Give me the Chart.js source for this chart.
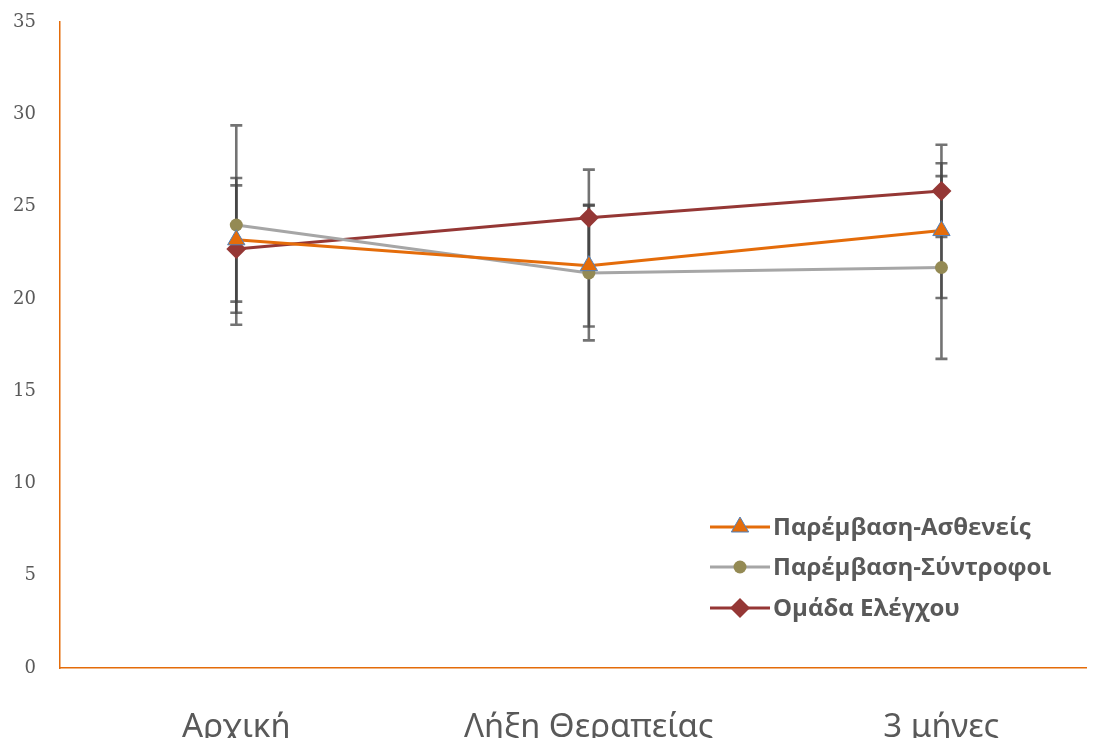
<!DOCTYPE html>
<html lang="el">
<head>
<meta charset="utf-8">
<title>Παρέμβαση – μετρήσεις</title>
<script src="https://cdn.jsdelivr.net/npm/chart.js@4/dist/chart.umd.min.js"></script>
<style>
  html, body { margin: 0; padding: 0; background: #ffffff; overflow: hidden; }
  #wrap { width: 1101px; height: 738px; overflow: hidden; }
  canvas { display: block; }
</style>
</head>
<body>
<div id="wrap"><canvas id="chart" width="1101" height="780"></canvas></div>
<script>
// Measurement time points
const categories = ['Αρχική', 'Λήξη Θεραπείας', '3 μήνες'];

// Mean scores per group
const patients = [23.2, 21.8, 23.7];
const partners = [24.0, 21.4, 21.7];
const control  = [22.7, 24.4, 25.85];

// Error (± half range) per group
const patientsErr = [3.35, 3.3, 3.65];
const partnersErr = [5.4, 3.65, 4.95];
const controlErr  = [3.45, 2.6, 2.5];

const seriesNames = ['Παρέμβαση-Ασθενείς', 'Παρέμβαση-Σύντροφοι', 'Ομάδα Ελέγχου'];

// Y axis tick values
const yTicks = [0, 5, 10, 15, 20, 25, 30, 35];

const TEXT = '#595959';
const AXIS = '#E46C0A';

const toPoints = arr => arr.map((v, i) => ({ x: i, y: v }));

// Vertical error bars with caps, drawn underneath the lines and markers
const errorBars = {
  id: 'errorBars',
  beforeDatasetsDraw(chart) {
    const { ctx, scales: { x, y } } = chart;
    ctx.save();
    ctx.strokeStyle = 'rgba(68,68,68,0.75)';
    ctx.lineWidth = 2.6;
    chart.data.datasets.forEach(ds => {
      ds.data.forEach((p, i) => {
        const e = ds.errors[i];
        const px = x.getPixelForValue(p.x);
        const top = y.getPixelForValue(p.y + e);
        const bot = y.getPixelForValue(p.y - e);
        ctx.beginPath();
        ctx.moveTo(px, top); ctx.lineTo(px, bot);
        ctx.moveTo(px - 6, top); ctx.lineTo(px + 6, top);
        ctx.moveTo(px - 6, bot); ctx.lineTo(px + 6, bot);
        ctx.stroke();
      });
    });
    ctx.restore();
  }
};

// Legend inside the plot area: line sample with marker, then the label
const insideLegend = {
  id: 'insideLegend',
  afterDraw(chart) {
    const { ctx, chartArea } = chart;
    const x0 = chartArea.right - 376;
    const rows = [527, 567, 608];
    ctx.save();
    chart.data.datasets.forEach((ds, i) => {
      const yy = rows[i];
      ctx.strokeStyle = ds.borderColor;
      ctx.lineWidth = 3;
      ctx.beginPath();
      ctx.moveTo(x0, yy); ctx.lineTo(x0 + 60, yy);
      ctx.stroke();
      const opts = {
        pointStyle: ds.pointStyle,
        radius: ds.pointRadius,
        rotation: 0,
        borderWidth: ds.pointBorderWidth
      };
      ctx.fillStyle = ds.pointBackgroundColor;
      ctx.strokeStyle = ds.pointBorderColor;
      ctx.lineWidth = ds.pointBorderWidth;
      Chart.helpers.drawPoint(ctx, opts, x0 + 30, yy);
      ctx.fillStyle = TEXT;
      ctx.font = 'bold 24px "Open Sans", "Noto Sans", sans-serif';
      ctx.textBaseline = 'middle';
      ctx.textAlign = 'left';
      ctx.fillText(ds.label, x0 + 63, yy + 1);
    });
    ctx.restore();
  }
};

new Chart(document.getElementById('chart'), {
  type: 'line',
  data: {
    datasets: [
      {
        label: seriesNames[0],
        data: toPoints(patients),
        errors: patientsErr,
        borderColor: '#E46C0A',
        borderWidth: 3,
        pointStyle: 'triangle',
        pointRadius: 10,
        pointBackgroundColor: '#E46C0A',
        pointBorderColor: '#4F81BD',
        pointBorderWidth: 1,
        tension: 0
      },
      {
        label: seriesNames[1],
        data: toPoints(partners),
        errors: partnersErr,
        borderColor: '#A6A6A6',
        borderWidth: 3,
        pointStyle: 'circle',
        pointRadius: 6.5,
        pointBackgroundColor: '#948A54',
        pointBorderColor: '#948A54',
        pointBorderWidth: 0,
        tension: 0
      },
      {
        label: seriesNames[2],
        data: toPoints(control),
        errors: controlErr,
        borderColor: '#953735',
        borderWidth: 3,
        pointStyle: 'rectRot',
        pointRadius: 10,
        pointBackgroundColor: '#953735',
        pointBorderColor: '#953735',
        pointBorderWidth: 0,
        tension: 0
      }
    ]
  },
  options: {
    responsive: false,
    animation: false,
    events: [],
    layout: { padding: { top: 22, right: 15, left: 0, bottom: 0 } },
    plugins: {
      legend: { display: false },
      tooltip: { enabled: false },
      title: { display: false }
    },
    scales: {
      x: {
        type: 'linear',
        min: -0.5,
        max: 2.41,
        afterBuildTicks(scale) { scale.ticks = categories.map((c, i) => ({ value: i })); },
        afterFit(scale) { scale.height = 112; },
        grid: { display: false, drawTicks: false },
        border: { display: true, color: AXIS, width: 1.5 },
        ticks: {
          autoSkip: false,
          maxRotation: 0,
          padding: 40,
          color: TEXT,
          font: { family: '"Noto Sans", sans-serif', size: 33 },
          callback: v => categories[v] ?? ''
        }
      },
      y: {
        min: 0,
        max: 35,
        afterBuildTicks(scale) { scale.ticks = yTicks.map(v => ({ value: v })); },
        afterFit(scale) {
          scale.width = 60;
          scale.paddingTop = 0;
          scale.paddingBottom = 0;
        },
        grid: { display: false, drawTicks: false },
        border: { display: true, color: AXIS, width: 1.5 },
        ticks: {
          padding: 24,
          color: TEXT,
          font: { family: '"DejaVu Serif", serif', size: 18 }
        }
      }
    }
  },
  plugins: [errorBars, insideLegend]
});
</script>
</body>
</html>
